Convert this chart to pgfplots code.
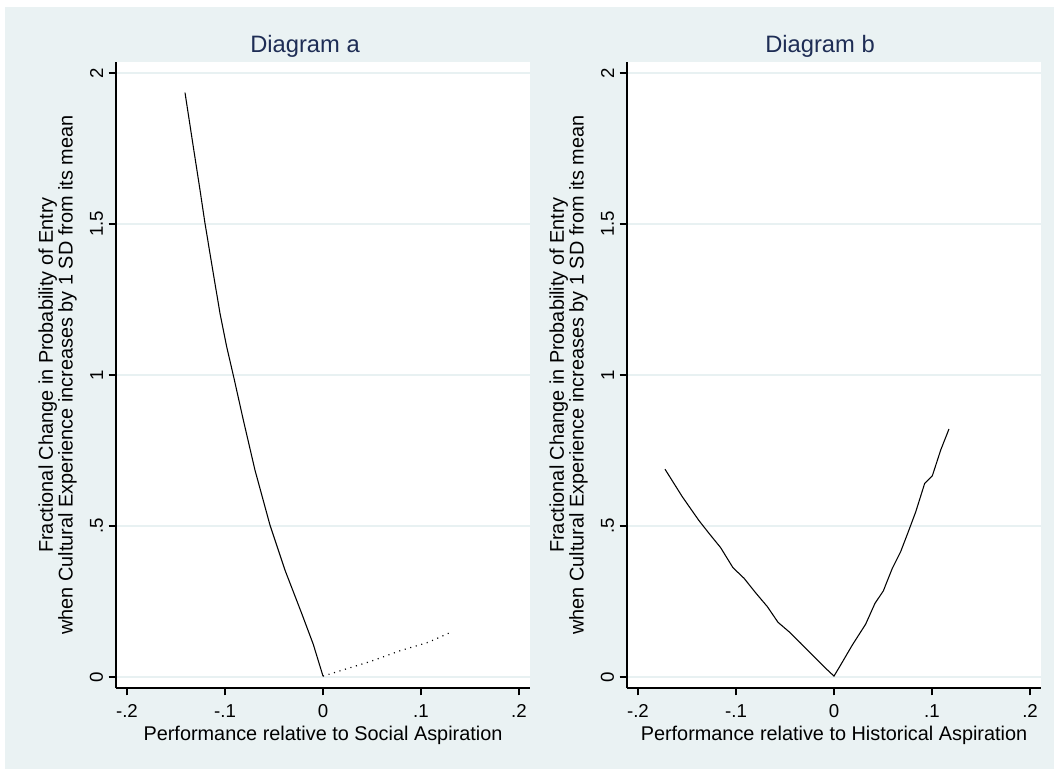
\documentclass[border=0pt]{standalone}
\usepackage{fontspec}
\setmainfont{Liberation Sans}
\usepackage{pgfplots}
\usepackage{pgfplotstable}
\pgfplotsset{compat=1.18}
\definecolor{stbg}{RGB}{234,242,243}
\definecolor{stgrid}{RGB}{232,241,242}
\definecolor{sttitle}{RGB}{30,45,85}

\pgfplotstableread{
x y
-0.1408 1.935
-0.1323 1.755
-0.1255 1.613
-0.1204 1.502
-0.1136 1.369
-0.1051 1.204
-0.0983 1.094
-0.0908 0.989
-0.0813 0.851
-0.0694 0.685
-0.0541 0.503
-0.0388 0.354
-0.0218 0.211
-0.0099 0.108
0.0000 0.003
}\tabAneg

\pgfplotstableread{
x y
0.0000 0.003
0.0480 0.051
0.0786 0.087
0.1075 0.115
0.1303 0.148
}\tabApos

\pgfplotstableread{
x y
-0.1724 0.688
-0.1548 0.597
-0.1378 0.518
-0.1276 0.476
-0.1156 0.428
-0.1031 0.362
-0.0918 0.327
-0.0800 0.279
-0.0680 0.233
-0.0571 0.181
-0.0452 0.148
-0.0340 0.112
-0.0221 0.073
-0.0102 0.034
0.0000 0.003
0.0068 0.040
0.0187 0.106
0.0323 0.175
0.0418 0.244
0.0503 0.285
0.0595 0.360
0.0680 0.415
0.0758 0.481
0.0834 0.547
0.0925 0.641
0.1003 0.666
0.1089 0.752
0.1173 0.821
}\tabB

\pgfplotsset{
  stata/.style={
    scale only axis, width=310.5pt, height=469.5pt,
    anchor=south west,
    xmin=-0.2112, xmax=0.2112, ymin=-0.0364, ymax=2.0364,
    axis lines=left,
    axis line style={-, line width=0.9pt, black},
    axis background/.style={fill=white},
    xtick={-0.2,-0.1,0,0.1,0.2}, xticklabels={-.2,-.1,0,.1,.2},
    ytick={0,0.5,1,1.5,2}, yticklabels={0,.5,1,1.5,2},
    minor tick num=0,
    tick align=outside, major tick length=5.5pt,
    tick style={line width=0.9pt, black},
    ymajorgrids, grid style={stgrid, line width=0.9pt},
    ticklabel style={font=\fontsize{14}{16}\selectfont, inner sep=0pt},
    xticklabel style={anchor=north},
    yticklabel style={rotate=90, anchor=south},
    xticklabel shift=7pt,
    yticklabel shift=4pt,
    xlabel style={at={(axis description cs:0.5,0)}, anchor=base, yshift=-39pt,
      font=\fontsize{14.9}{17}\selectfont, inner sep=0pt},
    ylabel style={at={(axis description cs:-0.094,0.5)}, anchor=south, rotate=0,
      align=center, font=\fontsize{14.9}{13.8}\selectfont, inner sep=0pt},
    clip=false,
  }
}

\begin{document}
\begin{tikzpicture}[x=0.75pt,y=0.75pt]
\fill[white] (0,0) rectangle (1054,769);
\fill[stbg] (5,0) rectangle (1054,762);

\begin{axis}[stata, at={(87pt,60.75pt)},
  xlabel={Performance relative to Social Aspiration},
  ylabel={Fractional Change in Probability of Entry\\when Cultural Experience increases by 1 SD from its mean}]
\addplot[black, line width=0.8pt] table[x=x,y=y] {\tabAneg};
\addplot[black, line width=0.9pt, dash pattern=on 0.8pt off 3.5pt] table[x=x,y=y] {\tabApos};
\end{axis}

\begin{axis}[stata, at={(470.25pt,60.75pt)},
  xlabel={Performance relative to Historical Aspiration},
  ylabel={Fractional Change in Probability of Entry\\when Cultural Experience increases by 1 SD from its mean}]
\addplot[black, line width=0.8pt] table[x=x,y=y] {\tabB};
\end{axis}

\node[anchor=base, text=sttitle, font=\fontsize{17.8}{20}\selectfont, inner sep=0pt] at (305,716) {Diagram a};
\node[anchor=base, text=sttitle, font=\fontsize{17.8}{20}\selectfont, inner sep=0pt] at (820,716) {Diagram b};
\end{tikzpicture}
\end{document}
